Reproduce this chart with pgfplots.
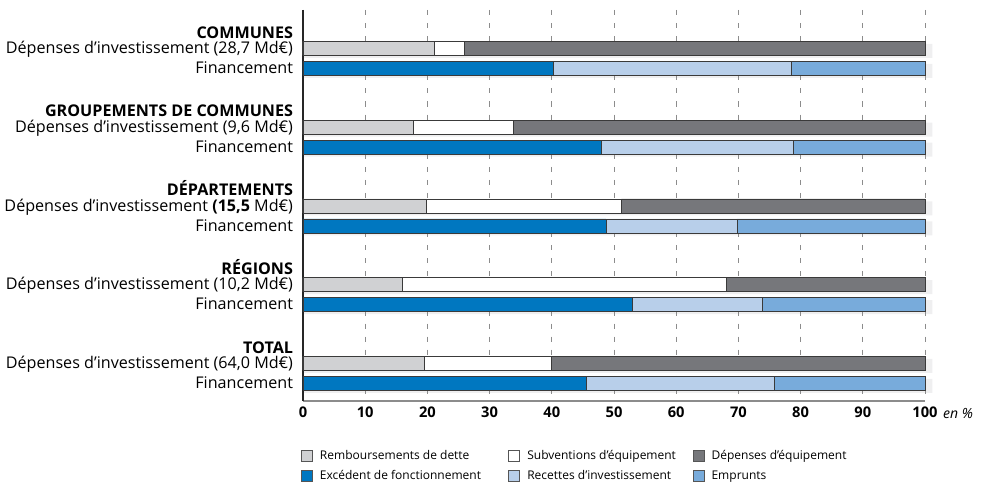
\documentclass[border=0pt]{standalone}
\usepackage{fontspec}
\setmainfont{Open Sans}
\usepackage{pgfplots}
\pgfplotsset{compat=1.18}
\definecolor{remb}{HTML}{D0D1D3}
\definecolor{dep}{HTML}{76777B}
\definecolor{exc}{HTML}{0077C0}
\definecolor{rec}{HTML}{B8CFEA}
\definecolor{emp}{HTML}{78ABDB}
\definecolor{edge}{HTML}{3A3A3A}
\definecolor{legedge}{HTML}{555555}
\definecolor{shadow}{HTML}{EFEFF0}
\definecolor{gridc}{HTML}{8C8C8C}

\pgfplotstableread{
y remb subv depe
48.5   21.1 4.9  74.0
127.25 17.7 16.1 66.2
206    19.9 31.3 48.8
284.75 16.0 52.0 32.0
363.5  19.5 20.5 60.0
}\depenses

\pgfplotstableread{
y exc rec emp
68.5   40.3 38.3 21.4
147.25 47.9 31.0 21.1
226    48.7 21.1 30.2
304.75 52.9 20.9 26.2
383.5  45.5 30.3 24.2
}\financement

\pgfplotstableread{
y v
50.8   101.2
70.8   101.2
129.55 101.2
149.55 101.2
208.3  101.2
228.3  101.2
287.05 101.2
307.05 101.2
365.8  101.2
385.8  101.2
}\ombres

\pgfplotsset{
  myax/.style={
    scale only axis, width=466.5pt, height=293.25pt,
    xmin=0, xmax=100, ymin=10, ymax=401, y dir=reverse,
    at={(0,0)}, anchor=south west, clip=false,
  },
  sq/.style={legend image code/.code={\draw[##1,draw=legedge,line width=0.5pt] (0pt,-4.1pt) rectangle (8.2pt,4.1pt);}},
}
\newcommand{\lf}{\fontsize{9}{11}\selectfont}
\newcommand{\lta}[1]{\hspace{3.5pt}\makebox[139.3pt][l]{\lf #1}}
\newcommand{\ltb}[1]{\hspace{3.5pt}\makebox[122pt][l]{\lf #1}}
\newcommand{\ltc}[1]{\hspace{3.5pt}{\lf #1}}

\begin{document}
\begin{tikzpicture}[x=0.75pt,y=0.75pt]
\useasboundingbox (-303,-83) rectangle (697,401);

% shadows
\begin{axis}[myax, hide axis, xbar, bar width=14]
\addplot[fill=shadow, draw=none] table[x=v, y=y] {\ombres};
\end{axis}

% dépenses + axes + labels
\begin{axis}[myax,
  xbar stacked, bar width=14,
  axis x line=bottom, axis y line=left,
  x axis line style={-, draw=gridc, line width=0.8pt},
  y axis line style={-, draw=black!85, line width=0.8pt},
  xtick={0,10,...,100},
  xmajorgrids,
  grid style={draw=gridc, line width=0.5pt, dash pattern=on 3.8pt off 6pt},
  major tick length=0pt,
  /pgf/number format/assume math mode=true,
  xticklabel style={font=\bfseries\fontsize{11}{12}\selectfont, yshift=-1pt},
  ytick={33,48.5,68.5,111.75,127.25,147.25,190.5,206,226,269.25,284.75,304.75,348,363.5,383.5},
  yticklabels={
    \textbf{COMMUNES},{Dépenses d’investissement (28,7 Md€)},Financement,
    \textbf{GROUPEMENTS DE COMMUNES},{Dépenses d’investissement (9,6 Md€)},Financement,
    \textbf{DÉPARTEMENTS},{Dépenses d’investissement \textbf{(15,5} Md€)},Financement,
    \textbf{RÉGIONS},{Dépenses d’investissement (10,2 Md€)},Financement,
    \textbf{TOTAL},{Dépenses d’investissement (64,0 Md€)},Financement},
  yticklabel style={font=\fontsize{12.1}{13}\selectfont, anchor=east, inner sep=0pt,
    text height=8.4pt, text depth=2.4pt, xshift=-7.3pt, yshift=-0.9pt},
  legend columns=3,
  legend style={draw=none, fill=none, at={(-0.010,-0.112)}, anchor=north west,
    row sep=2.5pt,
    /tikz/every even column/.append style={column sep=0pt}},
  legend cell align=left,
]
\addplot[sq, fill=remb, draw=edge, line width=0.6pt] table[x=remb, y=y] {\depenses};
\addlegendentry{\lta{Remboursements de dette}}
\addplot[sq, fill=white, draw=edge, line width=0.6pt] table[x=subv, y=y] {\depenses};
\addlegendentry{\ltb{Subventions d’équipement}}
\addplot[sq, fill=dep, draw=edge, line width=0.6pt] table[x=depe, y=y] {\depenses};
\addlegendentry{\ltc{Dépenses d’équipement}}
\addlegendimage{sq, fill=exc}
\addlegendentry{\lta{Excédent de fonctionnement}}
\addlegendimage{sq, fill=rec}
\addlegendentry{\ltb{Recettes d’investissement}}
\addlegendimage{sq, fill=emp}
\addlegendentry{\ltc{Emprunts}}
\end{axis}

% financement
\begin{axis}[myax, hide axis, xbar stacked, bar width=14]
\addplot[fill=exc, draw=edge, line width=0.6pt] table[x=exc, y=y] {\financement};
\addplot[fill=rec, draw=edge, line width=0.6pt] table[x=rec, y=y] {\financement};
\addplot[fill=emp, draw=edge, line width=0.6pt] table[x=emp, y=y] {\financement};
\end{axis}

\node[font=\itshape\fontsize{10.5}{12}\selectfont] at (655,-13) {en \%};
\end{tikzpicture}
\end{document}
